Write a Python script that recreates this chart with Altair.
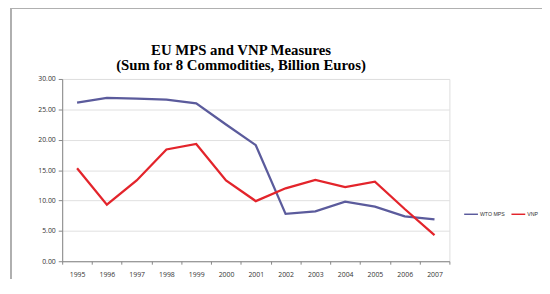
import altair as alt
import pandas as pd

years = ["1995", "1996", "1997", "1998", "1999", "2000", "2001",
         "2002", "2003", "2004", "2005", "2006", "2007"]
wto_mps = [26.1, 26.9, 26.75, 26.6, 26.0, 22.5, 19.1, 7.8, 8.2, 9.8, 9.0, 7.4, 6.9]
vnp = [15.3, 9.3, 13.3, 18.4, 19.3, 13.3, 9.9, 12.0, 13.4, 12.2, 13.1, 8.6, 4.3]
series = ["WTO MPS", "VNP"]
colors = ["#5B5B9C", "#E3242B"]

rows = []
for name, vals in zip(series, [wto_mps, vnp]):
    for y, v in zip(years, vals):
        rows.append({"year": y, "value": v, "series": name})
df = pd.DataFrame(rows)

lines = alt.Chart(df).mark_line(strokeWidth=2.3).encode(
    x=alt.X("year:O", bandPosition=0.5,
            scale=alt.Scale(type="band", paddingInner=0, paddingOuter=0),
            axis=alt.Axis(title=None, labelAngle=0, tickBand="extent",
                          labelFontSize=7, labelColor="#333333", labelFont="Open Sans",
                          tickSize=3, tickColor="#868686", domainColor="#868686",
                          labelPadding=6, grid=False)),
    y=alt.Y("value:Q", scale=alt.Scale(domain=[0, 30], nice=False),
            axis=alt.Axis(title=None, values=[0, 5, 10, 15, 20, 25, 30], format=".2f",
                          labelFontSize=7, labelColor="#333333", labelFont="Open Sans",
                          tickSize=4, tickColor="#868686", domainColor="#868686",
                          labelPadding=3, gridColor="#E0E0E0", gridWidth=1)),
    color=alt.Color("series:N", scale=alt.Scale(domain=series, range=colors),
                    sort=series,
                    legend=alt.Legend(title=None, orient="none", legendX=407, legendY=129,
                                      direction="horizontal", symbolType="stroke",
                                      symbolSize=196, symbolStrokeWidth=1.5,
                                      labelFontSize=5.3, labelFont="Liberation Sans",
                                      labelColor="#333333", labelOffset=1,
                                      columnPadding=3, padding=0)),
)

frame = alt.Chart(df).mark_rect(fill=None, stroke="#B0B0B0", strokeWidth=1.5).encode(
    x=alt.value(-52), x2=alt.value(600), y=alt.value(-72), y2=alt.value(300)
)

chart = alt.layer(frame, lines).properties(
    width=393, height=185,
    autosize=alt.AutoSizeParams(type="none"),
    padding={"left": 55, "top": 70, "right": 94, "bottom": 16},
    title=alt.TitleParams(
        text=["EU MPS and VNP Measures", "(Sum for 8 Commodities, Billion Euros)"],
        font="Liberation Serif", fontSize=15, fontWeight="bold", color="#000000",
        lineHeight=16, anchor="middle", dx=-15, offset=8, dy=75),
).configure_view(stroke=None).configure(background="white")

chart.save("out.html", embed_options={"renderer": "svg", "actions": False})
